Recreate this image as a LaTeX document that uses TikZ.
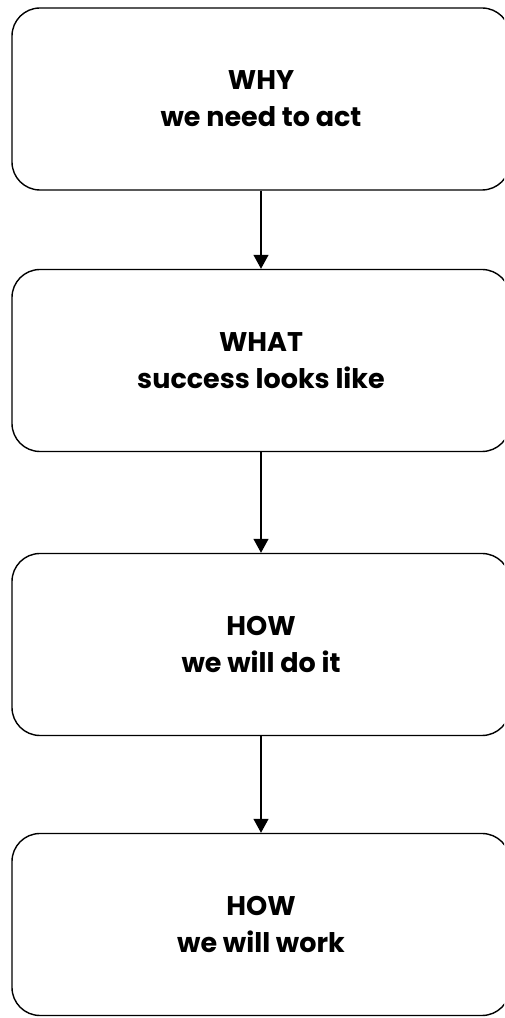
\documentclass[tikz,border=0pt]{standalone}
\usepackage{fontspec}
\setmainfont{Poppins}
\usetikzlibrary{arrows.meta}
\tikzset{
  stage/.style={draw=black, line width=1.4pt, rounded corners=28pt, fill=white,
    minimum width=498pt, minimum height=182pt, align=center,
    font=\fontsize{27}{37}\selectfont\bfseries},
  flow/.style={draw=black, line width=1.3pt, -{Triangle[width=15pt,length=14pt]}}
}
\begin{document}
\begin{tikzpicture}[x=1pt,y=1pt]
\useasboundingbox (0,0) rectangle (504,1018);
\clip (0,0) rectangle (504,1018);
\node[stage] (why)  at (261,919) {WHY\\we need to act};
\node[stage] (what) at (261,657.5) {WHAT\\success looks like};
\node[stage] (how)  at (261,373.5) {HOW\\we will do it};
\node[stage] (work) at (261,93.5) {HOW\\we will work};
\draw[flow] (why) -- (what);
\draw[flow] (what) -- (how);
\draw[flow] (how) -- (work);
\end{tikzpicture}
\end{document}
